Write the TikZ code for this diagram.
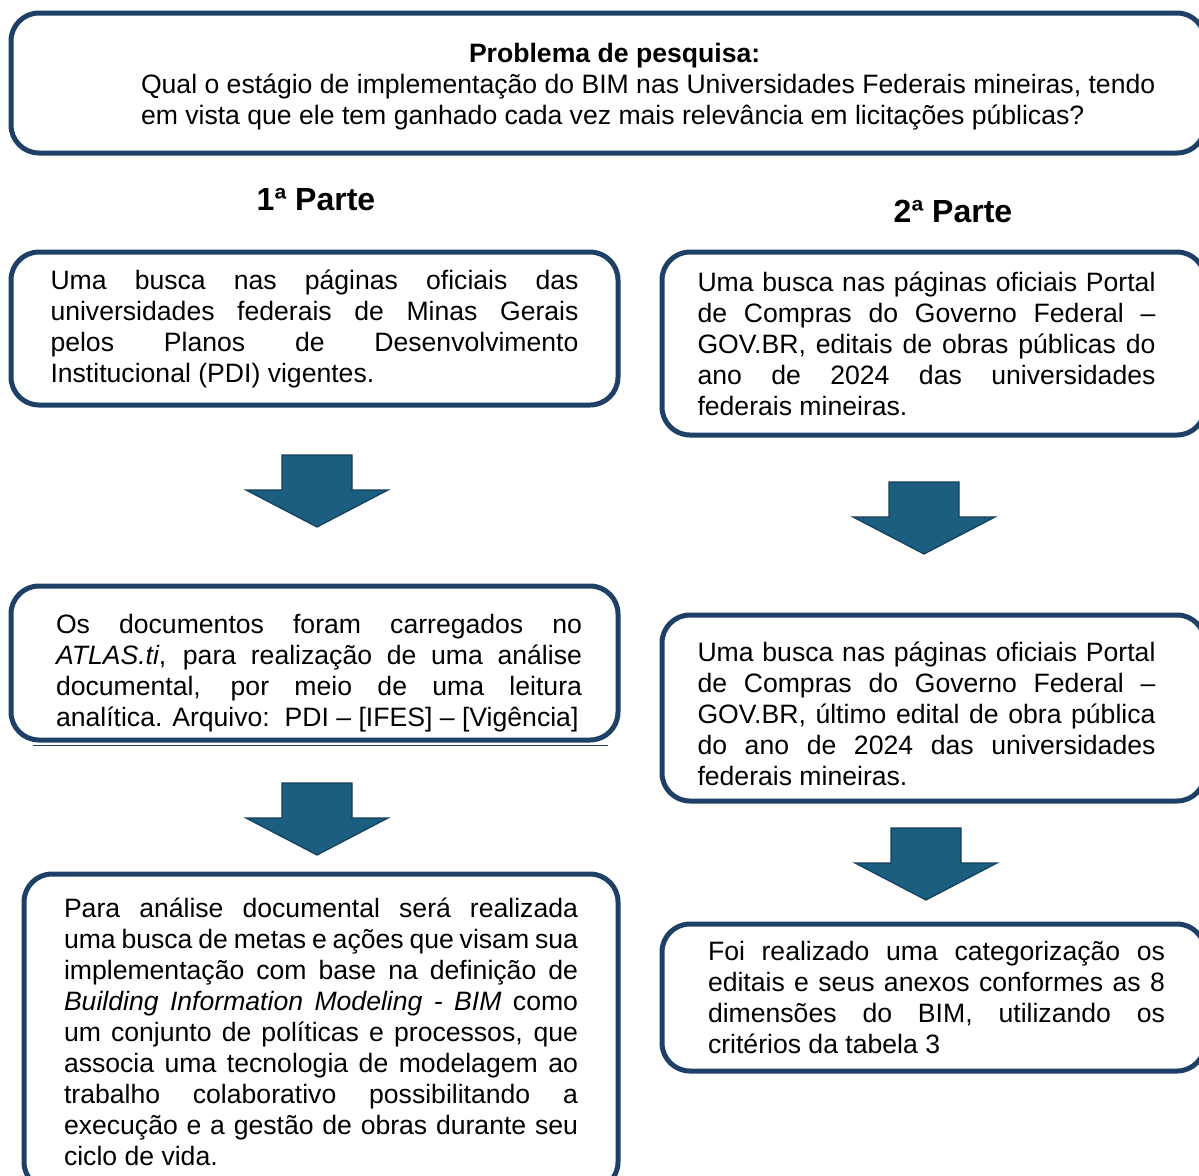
\documentclass[tikz,border=0pt]{standalone}
\usepackage{fontspec}
\setmainfont{Liberation Sans}

\definecolor{boxblue}{HTML}{1F4066}
\definecolor{arrowfill}{HTML}{1B5E80}
\definecolor{arrowedge}{HTML}{143F5C}
\newcommand{\bodysize}{\fontsize{13.3pt}{15.5pt}\selectfont}

\begin{document}
\begin{tikzpicture}[x=0.5pt, y=-0.5pt,
	box/.style={draw=boxblue, line width=2.5pt, rounded corners=14pt, fill=white, inner sep=0pt, font=\bodysize},
	textbox/.style={box, align=justify},
	parttitle/.style={font=\fontsize{16pt}{19pt}\selectfont\bfseries},
	blockarrow/.style={fill=arrowfill, draw=arrowedge, line width=0.6pt, line join=miter}]
	
	% Page
	\fill[white] (0,0) rectangle (1199,1175);
	\useasboundingbox (0,0) rectangle (1199,1175);
	
	% Research question
	\node[box, minimum width=597pt, minimum height=70pt] (question) at (608,83)
	{\hspace*{48pt}\begin{minipage}{515pt}\raggedright\vspace*{4pt}
			\hspace*{164pt}\textbf{Problema de pesquisa:}\\
			Qual o estágio de implementação do BIM nas Universidades Federais mineiras, tendo\\
			em vista que ele tem ganhado cada vez mais relevância em licitações públicas?
	\end{minipage}};
	
	% Parts
	\node[parttitle] (part1) at (316,200) {1ª Parte};
	\node[parttitle] (part2) at (953,211) {2ª Parte};
	
	% 1a Parte
	\node[textbox, text width=264pt, minimum width=303.5pt, minimum height=76.5pt] (pdi) at (314.5,328.5)
	{Uma busca nas páginas oficiais das\linebreak
		universidades federais de Minas Gerais\linebreak
		pelos Planos de Desenvolvimento\linebreak
		Institucional (PDI) vigentes.};
	
	\node[box, minimum width=303.5pt, minimum height=77pt] (atlas) at (314.5,663)
	{\hspace*{4.5pt}\begin{minipage}{263pt}\vspace*{10pt}
		Os documentos foram carregados no\linebreak
		\textit{ATLAS.ti}, para realização de uma análise\linebreak
		documental, por meio de uma leitura\linebreak
		analítica. Arquivo:\ \ PDI – [IFES] – [Vigência]
	\end{minipage}};
	\draw[boxblue, line width=0.6pt] ([xshift=12pt, yshift=-1.3pt]atlas.south west) -- ([xshift=-6.5pt, yshift=-1.3pt]atlas.south east);
	
	\node[textbox, text width=257pt, minimum width=297pt, minimum height=158pt] (analise) at (321,1032)
	{Para análise documental será realizada\linebreak
		uma busca de metas e ações que visam sua\linebreak
		implementação com base na definição de\linebreak
		\textit{Building Information Modeling - BIM} como\linebreak
		um conjunto de políticas e processos, que\linebreak
		associa uma tecnologia de modelagem ao\linebreak
		trabalho colaborativo possibilitando a\linebreak
		execução e a gestão de obras durante seu\linebreak
		ciclo de vida.};
	
	% 2a Parte
	\node[box, minimum width=271.5pt, minimum height=91.5pt] (editais) at (933.5,343.5)
	{\hspace*{-7pt}\begin{minipage}{229pt}
		Uma busca nas páginas oficiais Portal\linebreak
		de Compras do Governo Federal –\linebreak
		GOV.BR, editais de obras públicas do\linebreak
		ano de 2024 das universidades\linebreak
		federais mineiras.
	\end{minipage}};
	
	\node[box, minimum width=271.5pt, minimum height=93pt] (ultimo) at (933.5,708)
	{\hspace*{-7pt}\begin{minipage}{229pt}\vspace*{6pt}
		Uma busca nas páginas oficiais Portal\linebreak
		de Compras do Governo Federal –\linebreak
		GOV.BR, último edital de obra pública\linebreak
		do ano de 2024 das universidades\linebreak
		federais mineiras.
	\end{minipage}};
	
	\node[box, minimum width=271.5pt, minimum height=73.5pt] (dimensoes) at (933.5,997.5)
	{\hspace*{3pt}\begin{minipage}{228.5pt}
		Foi realizado uma categorização os\linebreak
		editais e seus anexos conformes as 8\linebreak
		dimensões do BIM, utilizando os\linebreak
		critérios da tabela 3
	\end{minipage}};
	
	% Block arrows
	\foreach \cx/\ty in {317/455, 317/783, 924/482, 926/828}
	\draw[blockarrow] (\cx-35,\ty) -- (\cx+35,\ty) -- (\cx+35,\ty+35) -- (\cx+71,\ty+35)
	-- (\cx,\ty+72) -- (\cx-71,\ty+35) -- (\cx-35,\ty+35) -- cycle;
	
\end{tikzpicture}
\end{document}
